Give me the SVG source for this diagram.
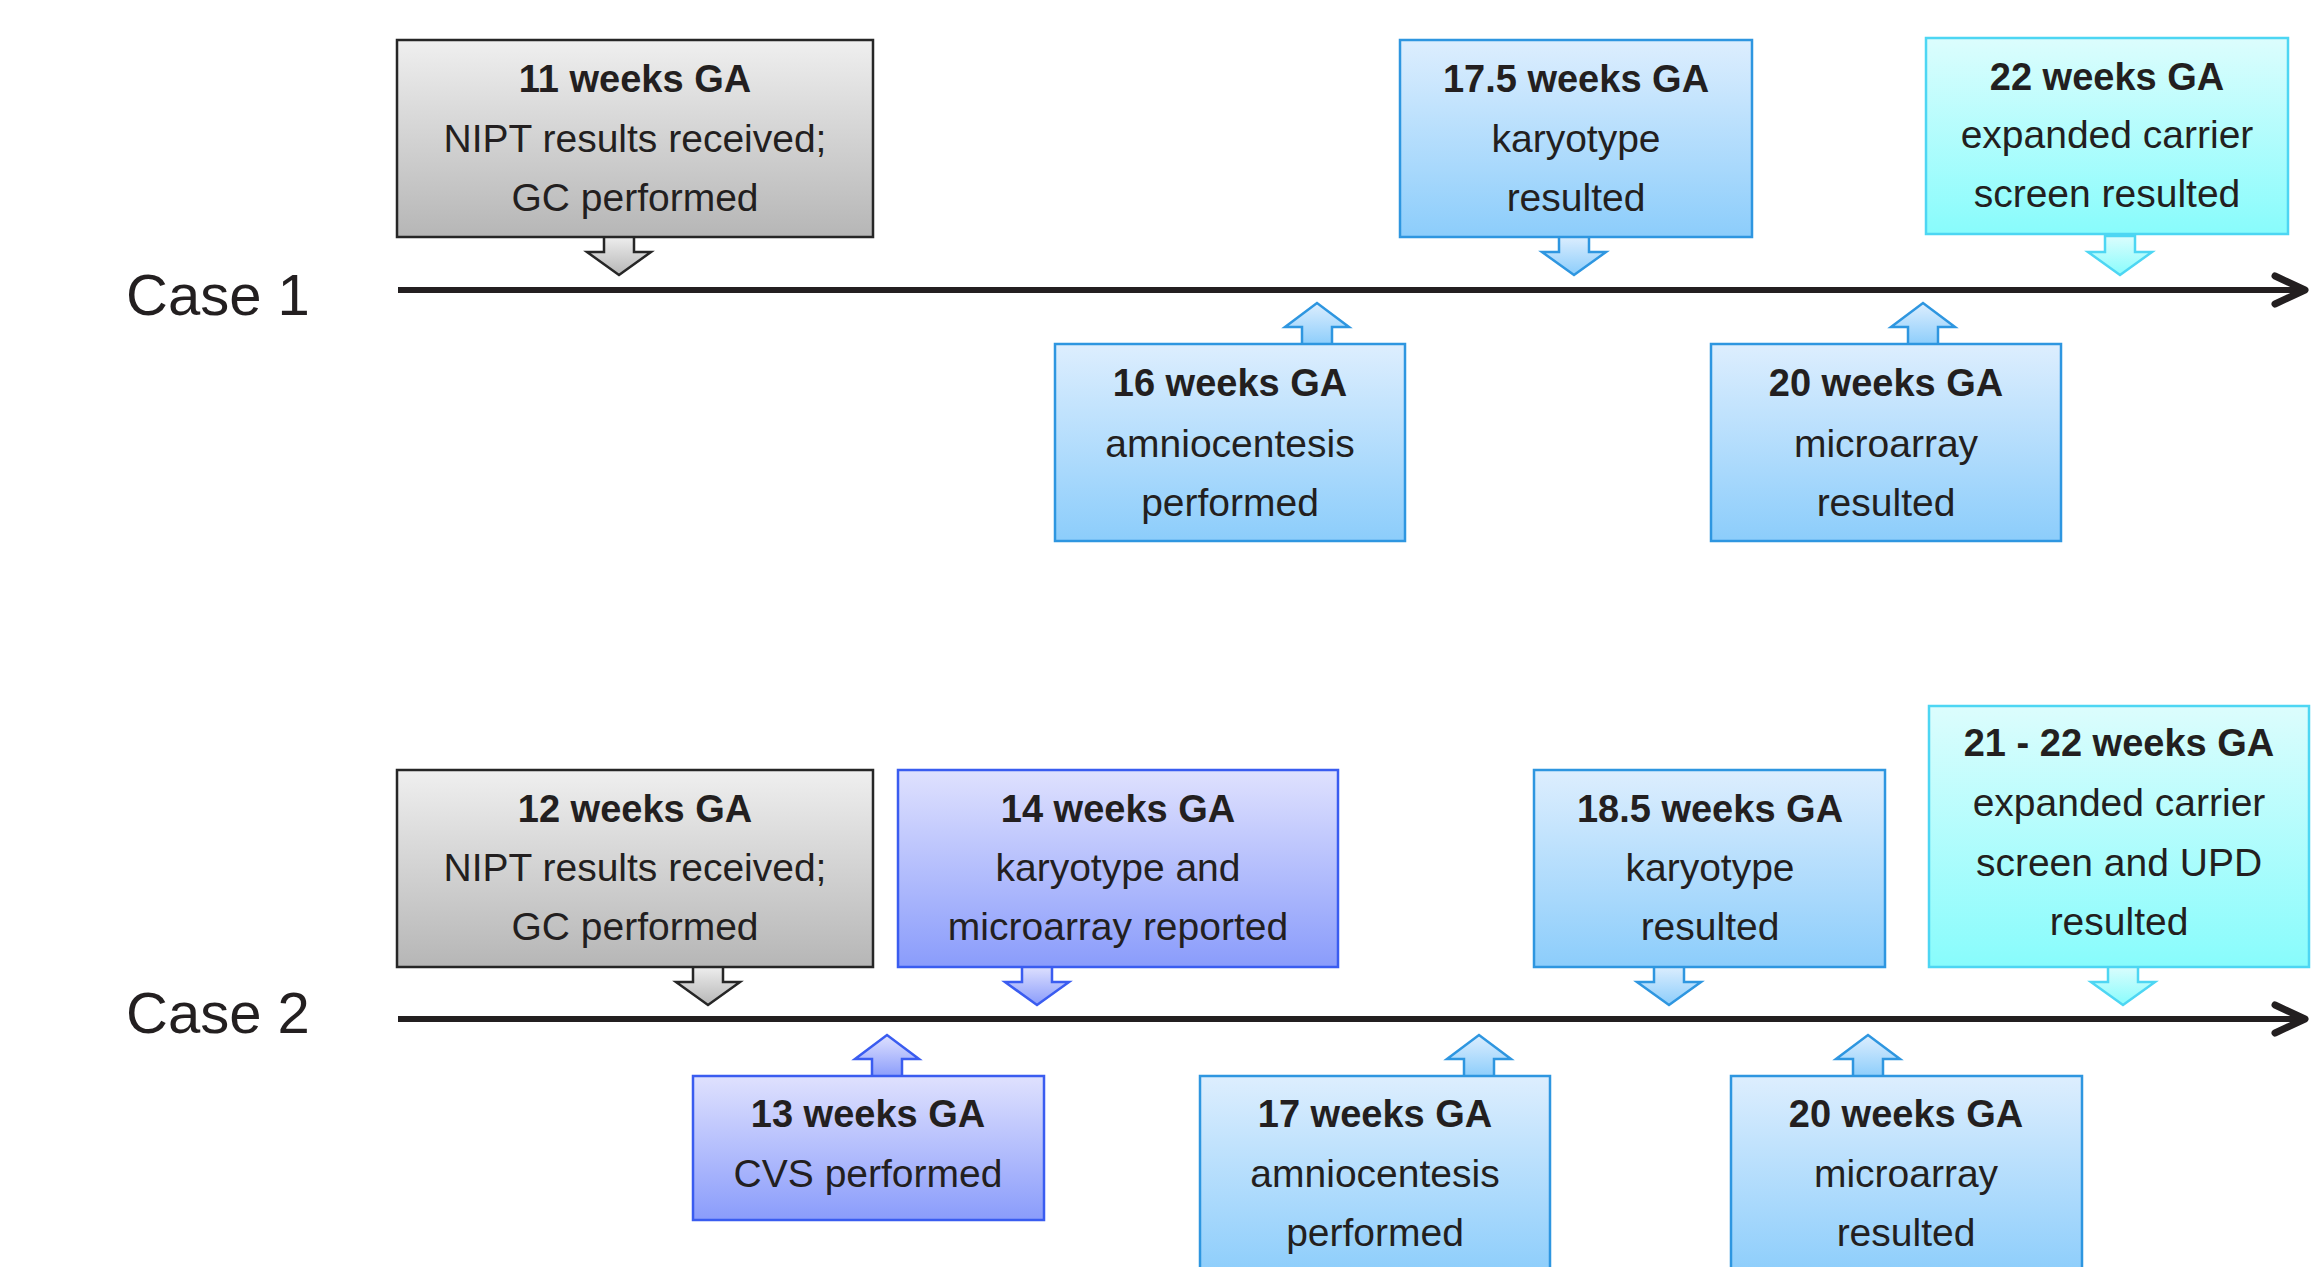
<svg xmlns="http://www.w3.org/2000/svg" xmlns:xlink="http://www.w3.org/1999/xlink" width="2323" height="1267" viewBox="0 0 2323 1267">
<style>
text{font-family:"Liberation Sans",Arial,sans-serif;fill:#231f20;text-anchor:middle;}
.t{font-size:38px;font-weight:bold;}
.l{font-size:39px;}
.case{font-size:58px;text-anchor:start;}
.gray{fill:url(#gGray);stroke:#262626;stroke-width:2.5;}
.blue{fill:url(#gBlue);stroke:#2e96e0;stroke-width:2.5;}
.cyan{fill:url(#gCyan);stroke:#4dd6f3;stroke-width:2.5;}
.purp{fill:url(#gPurp);stroke:#3a5cf0;stroke-width:2.5;}
.axis{stroke:#231f20;stroke-width:6;fill:none;}
.chev{stroke:#231f20;stroke-width:7;fill:none;stroke-linecap:round;stroke-linejoin:round;}
</style>
<defs>
<linearGradient id="gGray" x1="0" y1="0" x2="0" y2="1"><stop offset="0" stop-color="#efefef"/><stop offset="1" stop-color="#b6b6b6"/></linearGradient>
<linearGradient id="gBlue" x1="0" y1="0" x2="0" y2="1"><stop offset="0" stop-color="#ddeefe"/><stop offset="1" stop-color="#8ccdfb"/></linearGradient>
<linearGradient id="gCyan" x1="0" y1="0" x2="0" y2="1"><stop offset="0" stop-color="#dcfdfd"/><stop offset="1" stop-color="#88fcfc"/></linearGradient>
<linearGradient id="gPurp" x1="0" y1="0" x2="0" y2="1"><stop offset="0" stop-color="#dfe1fe"/><stop offset="1" stop-color="#8a9cfb"/></linearGradient>
<path id="down" d="M-15,0 H15 V16 H32 L0,39 L-32,16 H-15 Z"/>
<path id="up" d="M-15,0 V-18 H-32 L0,-42 L32,-18 H15 V0 Z"/>
</defs>
<rect width="2323" height="1267" fill="#ffffff"/>

<text class="case" x="126" y="315">Case 1</text>
<text class="case" x="126" y="1033">Case 2</text>

<g id="connectors">
<line class="axis" x1="398" y1="290" x2="2303" y2="290"/>
<polyline class="chev" points="2275,276 2305,290 2275,304"/>
<line class="axis" x1="398" y1="1019" x2="2303" y2="1019"/>
<polyline class="chev" points="2275,1005 2305,1019 2275,1033"/>
</g>

<g id="c1-11wk">
<use xlink:href="#down" x="619" y="236" class="gray"/>
<rect class="gray" x="397" y="40" width="476" height="197"/>
<text class="t" x="635" y="92">11 weeks GA</text>
<text class="l" x="635" y="152">NIPT results received;</text>
<text class="l" x="635" y="211">GC performed</text>
</g>

<g id="c1-16wk">
<use xlink:href="#up" x="1317" y="345" class="blue"/>
<rect class="blue" x="1055" y="344" width="350" height="197"/>
<text class="t" x="1230" y="396">16 weeks GA</text>
<text class="l" x="1230" y="457">amniocentesis</text>
<text class="l" x="1230" y="516">performed</text>
</g>

<g id="c1-17wk">
<use xlink:href="#down" x="1574" y="236" class="blue"/>
<rect class="blue" x="1400" y="40" width="352" height="197"/>
<text class="t" x="1576" y="92">17.5 weeks GA</text>
<text class="l" x="1576" y="152">karyotype</text>
<text class="l" x="1576" y="211">resulted</text>
</g>

<g id="c1-20wk">
<use xlink:href="#up" x="1923" y="345" class="blue"/>
<rect class="blue" x="1711" y="344" width="350" height="197"/>
<text class="t" x="1886" y="396">20 weeks GA</text>
<text class="l" x="1886" y="457">microarray</text>
<text class="l" x="1886" y="516">resulted</text>
</g>

<g id="c1-22wk">
<use xlink:href="#down" x="2120" y="236" class="cyan"/>
<rect class="cyan" x="1926" y="38" width="362" height="196"/>
<text class="t" x="2107" y="90">22 weeks GA</text>
<text class="l" x="2107" y="148">expanded carrier</text>
<text class="l" x="2107" y="207">screen resulted</text>
</g>

<g id="c2-12wk">
<use xlink:href="#down" x="708" y="966" class="gray"/>
<rect class="gray" x="397" y="770" width="476" height="197"/>
<text class="t" x="635" y="822">12 weeks GA</text>
<text class="l" x="635" y="881">NIPT results received;</text>
<text class="l" x="635" y="940">GC performed</text>
</g>

<g id="c2-13wk">
<use xlink:href="#up" x="887" y="1077" class="purp"/>
<rect class="purp" x="693" y="1076" width="351" height="144"/>
<text class="t" x="868" y="1127">13 weeks GA</text>
<text class="l" x="868" y="1187">CVS performed</text>
</g>

<g id="c2-14wk">
<use xlink:href="#down" x="1037" y="966" class="purp"/>
<rect class="purp" x="898" y="770" width="440" height="197"/>
<text class="t" x="1118" y="822">14 weeks GA</text>
<text class="l" x="1118" y="881">karyotype and</text>
<text class="l" x="1118" y="940">microarray reported</text>
</g>

<g id="c2-17wk">
<use xlink:href="#up" x="1479" y="1077" class="blue"/>
<rect class="blue" x="1200" y="1076" width="350" height="200"/>
<text class="t" x="1375" y="1127">17 weeks GA</text>
<text class="l" x="1375" y="1187">amniocentesis</text>
<text class="l" x="1375" y="1246">performed</text>
</g>

<g id="c2-18wk">
<use xlink:href="#down" x="1669" y="966" class="blue"/>
<rect class="blue" x="1534" y="770" width="351" height="197"/>
<text class="t" x="1710" y="822">18.5 weeks GA</text>
<text class="l" x="1710" y="881">karyotype</text>
<text class="l" x="1710" y="940">resulted</text>
</g>

<g id="c2-20wk">
<use xlink:href="#up" x="1868" y="1077" class="blue"/>
<rect class="blue" x="1731" y="1076" width="351" height="200"/>
<text class="t" x="1906" y="1127">20 weeks GA</text>
<text class="l" x="1906" y="1187">microarray</text>
<text class="l" x="1906" y="1246">resulted</text>
</g>

<g id="c2-21wk">
<use xlink:href="#down" x="2123" y="966" class="cyan"/>
<rect class="cyan" x="1929" y="706" width="380" height="261"/>
<text class="t" x="2119" y="756">21 - 22 weeks GA</text>
<text class="l" x="2119" y="816">expanded carrier</text>
<text class="l" x="2119" y="876">screen and UPD</text>
<text class="l" x="2119" y="935">resulted</text>
</g>
</svg>
